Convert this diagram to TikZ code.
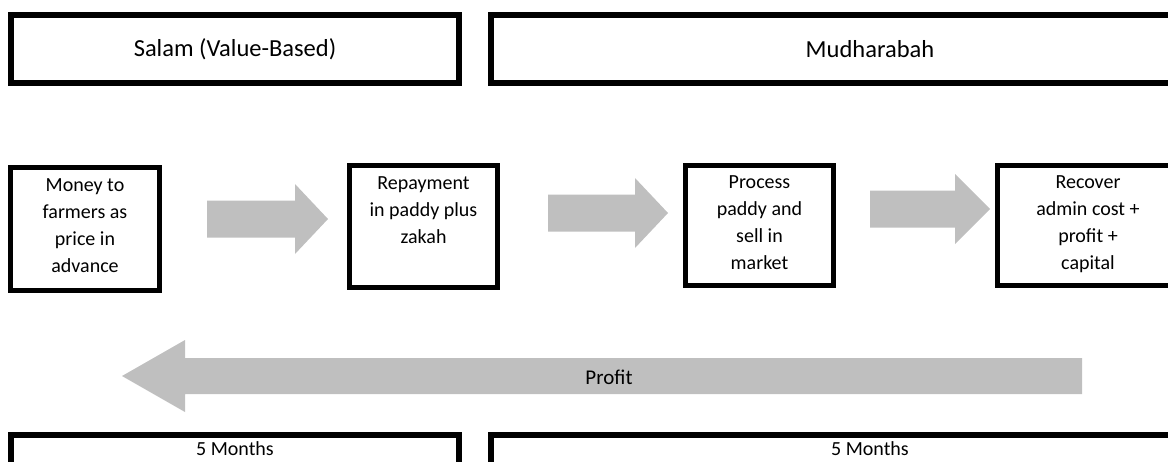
\documentclass[tikz,border=0pt]{standalone}
\usepackage{fontspec}
\setmainfont{Carlito}
\definecolor{arrowgray}{RGB}{191,191,191}
\newcommand{\stagelines}[1]{\parbox[c][100pt][t]{140pt}{\centering #1}}

\begin{document}
\begin{tikzpicture}[x=1pt,y=-1pt,
  header/.style={draw,line width=6pt,inner sep=0pt,minimum height=68pt,font=\fontsize{24.5}{30}\selectfont},
  stage/.style={draw,line width=5pt,inner sep=0pt,font=\fontsize{20}{27}\selectfont},
  span/.style={draw,line width=6pt,inner sep=0pt,anchor=north,text height=20pt,text depth=100pt,font=\fontsize{20}{24}\selectfont}]

  \useasboundingbox (0,0) rectangle (1168,461);
  \clip (0,0) rectangle (1168,461);

  % headings
  \node[header,minimum width=448pt] (salam) at (235,49) {Salam (Value-Based)};
  \node[header,minimum width=758pt] (mudharabah) at (870,49) {Mudharabah};

  % stages
  \node[stage,minimum width=149pt,minimum height=123pt] (money) at (85,229) {\stagelines{Money to\\farmers as\\price in\\advance}};
  \node[stage,minimum width=148pt,minimum height=122pt] (repay) at (423.5,226.5) {\stagelines{Repayment\\in paddy plus\\zakah}};
  \node[stage,minimum width=148pt,minimum height=120pt] (process) at (759.5,225.5) {\stagelines{Process\\paddy and\\sell in\\market}};
  \node[stage,minimum width=181pt,minimum height=120pt] (recover) at (1088,225.5) {\stagelines{Recover\\admin cost +\\profit +\\capital}};

  % block arrows
  \foreach \xa/\xb/\xc/\yc in {207/295/328/219, 548/635/668/213, 870/955/990/209}{
    \fill[arrowgray] (\xa,\yc-18.5) -- (\xb,\yc-18.5) -- (\xb,\yc-35) -- (\xc,\yc)
      -- (\xb,\yc+35) -- (\xb,\yc+18.5) -- (\xa,\yc+18.5) -- cycle;
  }
  \fill[arrowgray] (1082,358) -- (185,358) -- (185,340) -- (122,376)
    -- (185,412) -- (185,394) -- (1082,394) -- cycle;
  \node[font=\fontsize{21}{25}\selectfont] (profit) at (609,377) {Profit};

  % durations
  \node[span,minimum width=448pt] (salamtime) at (235,432) {5 Months};
  \node[span,minimum width=758pt] (mudharabahtime) at (870,432) {5 Months};
\end{tikzpicture}
\end{document}
